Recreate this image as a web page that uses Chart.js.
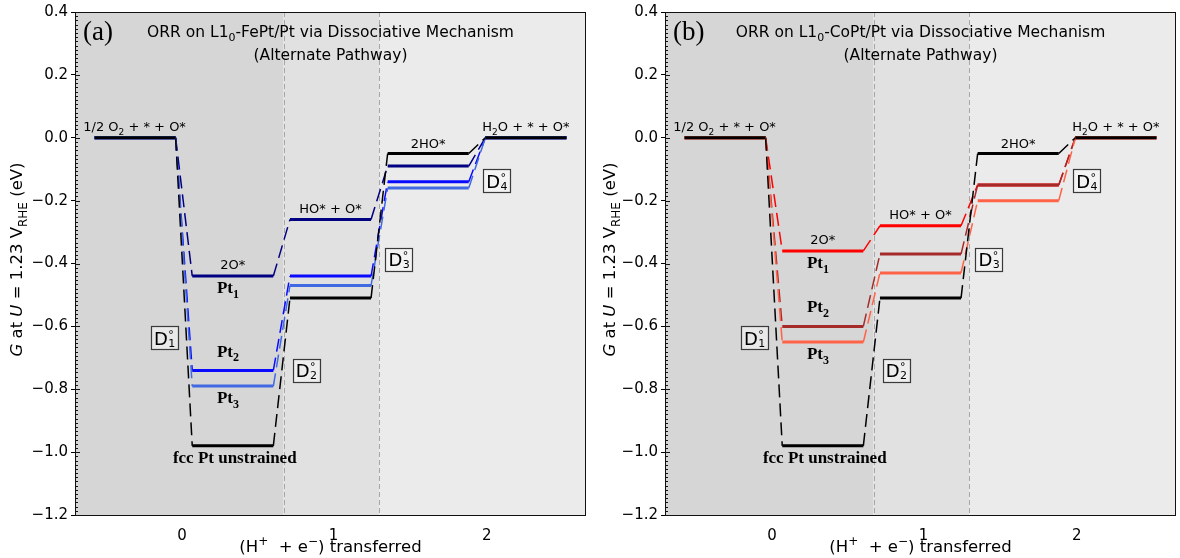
<!DOCTYPE html>
<html>
<head>
<meta charset="utf-8">
<script src="https://cdn.jsdelivr.net/npm/chart.js@4.4.0/dist/chart.umd.min.js"></script>
<style>
html, body { margin: 0; padding: 0; background: #fff; }
#wrap { position: relative; width: 1180px; height: 558px; }
.pane { position: absolute; top: 0; width: 590px; height: 558px; }
</style>
</head>
<body>
<div id="wrap">
  <div class="pane" style="left:0"><canvas id="chartA" width="590" height="558"></canvas></div>
  <div class="pane" style="left:590px"><canvas id="chartB" width="590" height="558"></canvas></div>
</div>
<script>
// reaction steps along the alternate (dissociative) pathway
var steps = [0, 1, 2, 3, 4];
var xTickPos = [0.48, 2.03, 3.6];
var xTickLabels = ['0', '1', '2'];
var yTickVals = [-1.2, -1.0, -0.8, -0.6, -0.4, -0.2, 0.0, 0.2, 0.4];
var regionEdges = [1.52, 2.5];

// free energies (eV) at U = 1.23 V_RHE
var feptFcc = [0, -0.98, -0.51, -0.05, 0];
var feptPt1 = [0, -0.44, -0.26, -0.09, 0];
var feptPt2 = [0, -0.74, -0.44, -0.14, 0];
var feptPt3 = [0, -0.79, -0.47, -0.16, 0];

var coptFcc = [0, -0.98, -0.51, -0.05, 0];
var coptPt1 = [0, -0.36, -0.28, -0.15, 0];
var coptPt2 = [0, -0.60, -0.37, -0.15, 0];
var coptPt3 = [0, -0.65, -0.43, -0.20, 0];

// D° boxes (positions in axis units)
var boxX = [0.3, 1.75, 2.7, 3.7];
var boxY = [-0.636, -0.74, -0.386, -0.136];

var HW = 0.415;
var SANS = '"DejaVu Sans", sans-serif';
var SERIF = '"Liberation Serif", "Times New Roman", serif';

function levelPoints(vals) {
    var pts = [];
    for (var i = 0; i < steps.length; i++) {
        pts.push({x: steps[i] - HW, y: vals[i]});
        pts.push({x: steps[i] + HW, y: vals[i]});
        if (i < steps.length - 1) pts.push({x: steps[i] + 0.5, y: null});
    }
    return pts;
}

function connectorPoints(vals) {
    var pts = [];
    for (var i = 0; i < steps.length - 1; i++) {
        pts.push({x: steps[i] + HW, y: vals[i]});
        pts.push({x: steps[i + 1] - HW, y: vals[i + 1]});
        if (i < steps.length - 2) pts.push({x: steps[i + 1], y: null});
    }
    return pts;
}

// parts: [text, kind] with kind '', 'sub', 'sup', 'it'
function drawRich(ctx, parts, x, y, align, size, family, weight) {
    weight = weight || 'normal';
    function fontFor(p) {
        var s = (p[1] == 'sub' || p[1] == 'sup') ? Math.round(size * 0.7) : size;
        var st = p[1] == 'it' ? 'italic ' : '';
        return st + weight + ' ' + s + 'px ' + family;
    }
    var w = 0;
    for (var i = 0; i < parts.length; i++) {
        ctx.font = fontFor(parts[i]);
        w += ctx.measureText(parts[i][0]).width;
    }
    var cx = x;
    if (align == 'center') cx = x - w / 2;
    if (align == 'right') cx = x - w;
    var base = y + size * 0.36;
    ctx.textAlign = 'left';
    ctx.textBaseline = 'alphabetic';
    for (var j = 0; j < parts.length; j++) {
        var p = parts[j];
        ctx.font = fontFor(p);
        var dy = 0;
        if (p[1] == 'sub') dy = size * 0.28;
        if (p[1] == 'sup') dy = -size * 0.4;
        ctx.fillText(p[0], cx, base + dy);
        cx += ctx.measureText(p[0]).width;
    }
}

function drawDBox(ctx, x, y, n) {
    ctx.font = '18px ' + SANS;
    var wd = ctx.measureText('D').width;
    var w = wd + 13, h = 23;
    ctx.save();
    ctx.fillStyle = 'rgba(250,250,250,0.55)';
    ctx.strokeStyle = '#3a3a3a';
    ctx.lineWidth = 1.2;
    ctx.fillRect(x - w / 2, y - h / 2, w, h);
    ctx.strokeRect(Math.round(x - w / 2) + 0.5, Math.round(y - h / 2) + 0.5, Math.round(w), h);
    ctx.fillStyle = '#000';
    ctx.textAlign = 'left';
    ctx.textBaseline = 'alphabetic';
    var lx = x - w / 2 + 3;
    ctx.fillText('D', lx, y + 7);
    ctx.font = '11px ' + SANS;
    ctx.fillText('°', lx + wd + 0.5, y + 0);
    ctx.fillText(String(n), lx + wd + 0.5, y + 9);
    ctx.restore();
}

function fmtY(v) {
    var s = Number(v).toFixed(1);
    return s.replace('-', '\u2212');
}

function makePanel(canvasId, letter, alloy, series) {
    var datasets = [];
    series.forEach(function(s) {
        datasets.push({
            data: levelPoints(s.values), borderColor: s.color, borderWidth: 3,
            pointRadius: 0, spanGaps: false, fill: false, borderCapStyle: 'butt'
        });
    });
    series.forEach(function(s) {
        datasets.push({
            data: connectorPoints(s.values), borderColor: s.color, borderWidth: 1.5,
            borderDash: [13, 6], pointRadius: 0, spanGaps: false, fill: false
        });
    });

    var deco = {
        id: 'deco',
        beforeDatasetsDraw: function(chart) {
            var ctx = chart.ctx, a = chart.chartArea, xs = chart.scales.x;
            var b1 = xs.getPixelForValue(regionEdges[0]);
            var b2 = xs.getPixelForValue(regionEdges[1]);
            ctx.save();
            ctx.fillStyle = '#d6d6d6';
            ctx.fillRect(a.left, a.top, b1 - a.left, a.bottom - a.top);
            ctx.fillStyle = '#e1e1e1';
            ctx.fillRect(b1, a.top, b2 - b1, a.bottom - a.top);
            ctx.fillStyle = '#ebebeb';
            ctx.fillRect(b2, a.top, a.right - b2, a.bottom - a.top);
            ctx.strokeStyle = '#a6a6a6';
            ctx.lineWidth = 1;
            ctx.setLineDash([5, 3]);
            [b1, b2].forEach(function(b) {
                ctx.beginPath();
                ctx.moveTo(Math.round(b) + 0.5, a.top);
                ctx.lineTo(Math.round(b) + 0.5, a.bottom);
                ctx.stroke();
            });
            ctx.restore();
        },
        afterDraw: function(chart) {
            var ctx = chart.ctx, a = chart.chartArea, xs = chart.scales.x, ys = chart.scales.y;
            ctx.save();
            // frame
            ctx.strokeStyle = '#111';
            ctx.lineWidth = 1;
            ctx.strokeRect(Math.round(a.left) + 0.5, Math.round(a.top) + 0.5,
                Math.round(a.right - a.left) - 1, Math.round(a.bottom - a.top));
            // minor ticks inside the left axis
            ctx.beginPath();
            for (var k = 0; k <= 120; k++) {
                var v = -1.2 + k * (0.2 / 15);
                var py = Math.round(ys.getPixelForValue(v)) + 0.5;
                ctx.moveTo(a.left, py);
                ctx.lineTo(a.left + 3, py);
            }
            yTickVals.forEach(function(v) {
                var py = Math.round(ys.getPixelForValue(v)) + 0.5;
                ctx.moveTo(a.left, py);
                ctx.lineTo(a.left + 5, py);
            });
            ctx.stroke();

            ctx.fillStyle = '#000';
            var X = function(v) { return xs.getPixelForValue(v); };
            var Y = function(v) { return ys.getPixelForValue(v); };

            // panel letter and title
            ctx.font = '27px ' + SERIF;
            ctx.textAlign = 'left';
            ctx.textBaseline = 'middle';
            ctx.fillText('(' + letter + ')', a.left + 8, a.top + 21);
            var mid = (a.left + a.right) / 2;
            drawRich(ctx, [['ORR on L1', ''], ['0', 'sub'], ['-' + alloy + '/Pt via Dissociative Mechanism', '']],
                mid, a.top + 19, 'center', 15.5, SANS);
            drawRich(ctx, [['(Alternate Pathway)', '']], mid, a.top + 42, 'center', 15.5, SANS);

            // state labels above the top-most level of each step
            var top = steps.map(function(s, i) {
                return Math.max.apply(null, series.map(function(se) { return se.values[i]; }));
            });
            var off = 0.036;
            drawRich(ctx, [['1/2 O', ''], ['2', 'sub'], [' + * + O*', '']], X(steps[0] - 0.53), Y(top[0] + off), 'left', 13, SANS);
            drawRich(ctx, [['2O*', '']], X(steps[1]), Y(top[1] + off), 'center', 13, SANS);
            drawRich(ctx, [['HO* + O*', '']], X(steps[2]), Y(top[2] + off), 'center', 13, SANS);
            drawRich(ctx, [['2HO*', '']], X(steps[3]), Y(top[3] + off - 0.005), 'center', 13, SANS);
            drawRich(ctx, [['H', ''], ['2', 'sub'], ['O + * + O*', '']], X(steps[4]), Y(top[4] + off), 'center', 13, SANS);

            // surface labels next to the 2O* level
            series.forEach(function(s) {
                var v = s.values[1];
                if (s.label == 'fcc') {
                    drawRich(ctx, [['fcc Pt unstrained', '']], X(steps[1] + 0.02), Y(v) + 11, 'center', 17, SERIF, 'bold');
                } else {
                    var dy = s.side == 'above' ? -20 : 11;
                    drawRich(ctx, [['Pt', ''], [s.label.slice(2), 'sub']], X(steps[1] - 0.05), Y(v) + dy, 'center', 17, SERIF, 'bold');
                }
            });

            // D° boxes
            for (var d = 0; d < boxX.length; d++) {
                drawDBox(ctx, X(boxX[d]), Y(boxY[d]), d + 1);
            }

            // axis titles
            drawRich(ctx, [['(H', ''], ['+', 'sup'], ['  + e', ''], ['\u2212', 'sup'], [') transferred', '']],
                mid, 546, 'center', 16.5, SANS);
            ctx.save();
            ctx.translate(letter == 'a' ? 16 : 19, (a.top + a.bottom) / 2 - 4);
            ctx.rotate(-Math.PI / 2);
            drawRich(ctx, [['G', 'it'], [' at ', ''], ['U', 'it'], [' = 1.23 V', ''], ['RHE', 'sub'], [' (eV)', '']],
                0, 0, 'center', 16.5, SANS);
            ctx.restore();
            ctx.restore();
        }
    };

    return new Chart(document.getElementById(canvasId).getContext('2d'), {
        type: 'line',
        data: { datasets: datasets },
        options: {
            responsive: false,
            animation: false,
            devicePixelRatio: 1,
            layout: { padding: { top: 9, right: 4, left: 0, bottom: 0 } },
            plugins: { legend: { display: false }, tooltip: { enabled: false } },
            scales: {
                x: {
                    type: 'linear', min: -0.615, max: 4.615,
                    afterBuildTicks: function(s) { s.ticks = xTickPos.map(function(v) { return {value: v}; }); },
                    afterFit: function(s) { s.height = 43; },
                    ticks: {
                        autoSkip: false, maxRotation: 0, padding: 4, color: '#000',
                        font: { family: 'DejaVu Sans', size: 15 },
                        callback: function(v, i) { return xTickLabels[i]; }
                    },
                    grid: { display: false },
                    border: { display: false }
                },
                y: {
                    type: 'linear', min: -1.2, max: 0.4,
                    afterBuildTicks: function(s) { s.ticks = yTickVals.map(function(v) { return {value: v}; }); },
                    afterFit: function(s) { s.width = 75; },
                    ticks: {
                        padding: 3, color: '#000',
                        font: { family: 'DejaVu Sans', size: 15 },
                        callback: function(v) { return fmtY(v); }
                    },
                    grid: { display: true, drawOnChartArea: false, drawTicks: true, tickLength: 4, color: '#000', lineWidth: 1 },
                    border: { display: false }
                }
            }
        },
        plugins: [deco]
    });
}

makePanel('chartA', 'a', 'FePt', [
    { label: 'fcc', values: feptFcc, color: '#000000', side: 'below' },
    { label: 'Pt3', values: feptPt3, color: '#4169e1', side: 'below' },
    { label: 'Pt2', values: feptPt2, color: '#0a0aff', side: 'above' },
    { label: 'Pt1', values: feptPt1, color: '#000080', side: 'below' }
]);

makePanel('chartB', 'b', 'CoPt', [
    { label: 'fcc', values: coptFcc, color: '#000000', side: 'below' },
    { label: 'Pt3', values: coptPt3, color: '#ff6347', side: 'below' },
    { label: 'Pt2', values: coptPt2, color: '#a52a2a', side: 'above' },
    { label: 'Pt1', values: coptPt1, color: '#ff0000', side: 'below' }
]);
</script>
</body>
</html>
